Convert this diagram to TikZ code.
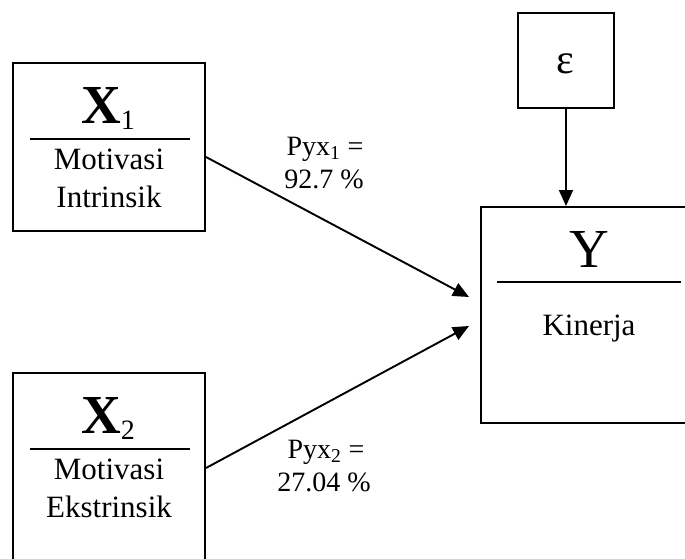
\documentclass[tikz,border=0pt]{standalone}
\usepackage{fontspec}
\setmainfont{Liberation Serif}
\usetikzlibrary{arrows.meta}
\begin{document}
\begin{tikzpicture}[x=1pt,y=-1pt,
  frame/.style={draw, line width=2pt, inner sep=0pt},
  rule/.style={line width=2pt},
  link/.style={line width=1.9pt, -{Triangle[length=16pt,width=14pt]}},
  body/.style={anchor=base, inner sep=0pt, font=\fontsize{31}{36}\selectfont},
  tag/.style={anchor=base, inner sep=0pt, font=\fontsize{28}{32}\selectfont},
  big/.style={anchor=base, inner sep=0pt, font=\fontsize{55}{60}\selectfont}]
\clip (0,0) rectangle (685,558);

% variable boxes
\node[frame, minimum width=192pt, minimum height=168pt] (x1) at (109,147) {};
\node[frame, minimum width=192pt, minimum height=227pt] (x2) at (109,486.5) {};
\node[frame, minimum width=239pt, minimum height=216pt] (yb) at (600.5,315) {};
\node[frame, minimum width=96pt, minimum height=95pt] (eps) at (566,60.5) {};

% X1
\node[big] (x1t) at (108,123) {\textbf{X}{\fontsize{28}{30}\selectfont\raisebox{-6pt}{1}}};
\draw[rule] (30,139) -- (190,139);
\node[body] (x1a) at (109,169) {Motivasi};
\node[body] (x1b) at (109,207) {Intrinsik};

% X2
\node[big] (x2t) at (108,433) {\textbf{X}{\fontsize{28}{30}\selectfont\raisebox{-6pt}{2}}};
\draw[rule] (30,449) -- (190,449);
\node[body] (x2a) at (109,479) {Motivasi};
\node[body] (x2b) at (109,517) {Ekstrinsik};

% Y
\node[big] (yt) at (589.5,267) {Y};
\draw[rule] (497,282) -- (681,282);
\node[body] (ya) at (589,335) {Kinerja};

% error term
\node[anchor=base, inner sep=0pt, font=\fontsize{42}{46}\selectfont] (epst) at (565,73) {ε};

% paths
\coordinate (in1) at (469,297);
\coordinate (in2) at (469,326);
\draw[link] ([yshift=-10pt]x1.east) -- (in1);
\draw[link] ([yshift=18.5pt]x2.east) -- (in2);
\draw[link] (eps.south) -- (eps.south |- yb.north);

% coefficients
\node[tag] (p1a) at (325,155) {Pyx\textsubscript{1} =};
\node[tag] (p1b) at (324,188) {92.7 \%};
\node[tag] (p2a) at (326,458) {Pyx\textsubscript{2} =};
\node[tag] (p2b) at (324,491) {27.04 \%};
\end{tikzpicture}
\end{document}
